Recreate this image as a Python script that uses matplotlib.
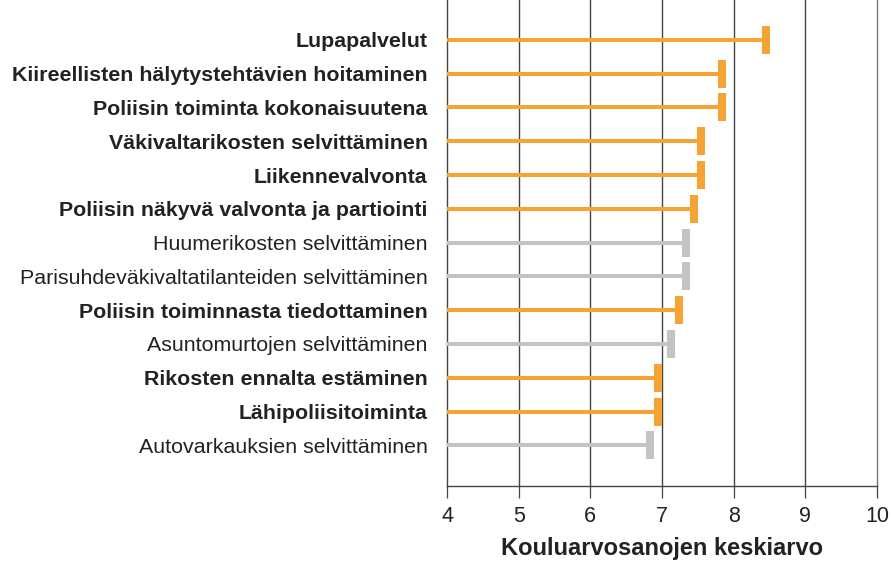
import matplotlib.pyplot as plt

plt.rcParams['font.family'] = ['Liberation Sans', 'DejaVu Sans']

labels = [
    "Lupapalvelut",
    "Kiireellisten hälytystehtävien hoitaminen",
    "Poliisin toiminta kokonaisuutena",
    "Väkivaltarikosten selvittäminen",
    "Liikennevalvonta",
    "Poliisin näkyvä valvonta ja partiointi",
    "Huumerikosten selvittäminen",
    "Parisuhdeväkivaltatilanteiden selvittäminen",
    "Poliisin toiminnasta tiedottaminen",
    "Asuntomurtojen selvittäminen",
    "Rikosten ennalta estäminen",
    "Lähipoliisitoiminta",
    "Autovarkauksien selvittäminen",
]
values = [8.45, 7.84, 7.84, 7.54, 7.54, 7.44, 7.33, 7.33, 7.24, 7.13, 6.94, 6.94, 6.83]
highlight = [True, True, True, True, True, True, False, False, True, False, True, True, False]

orange = "#F4A334"
gray = "#C2C3C5"

fig = plt.figure(figsize=(8.93, 5.65), dpi=100)
ax = fig.add_axes([0.5006, 0.140, 0.4815, 0.860])

for i, (v, h) in enumerate(zip(values, highlight)):
    c = orange if h else gray
    ax.plot([4, v - 0.05], [i, i], color=c, lw=2.9, solid_capstyle="butt", zorder=3)
    ax.plot([v], [i], marker="|", color=c, markersize=19.5, markeredgewidth=5.8, zorder=4)

ax.set_xlim(4, 10)
ax.set_ylim(13.2, -1.18)
ax.set_xticks(range(4, 11))
ax.tick_params(axis="x", direction="out", length=8.5, width=0.9, color="#444444",
               labelsize=15.5, pad=6, labelcolor="#222222")
ax.set_yticks(range(len(labels)))
ax.set_yticklabels(labels, fontsize=15.4, color="#222222")
for t, h in zip(ax.get_yticklabels(), highlight):
    t.set_fontweight("bold" if h else "normal")
ax.tick_params(axis="y", length=0, pad=14)

for x in range(5, 10):
    ax.axvline(x, color="#444444", lw=1.0, zorder=1)

ax.spines["top"].set_visible(False)
ax.spines["left"].set_color("#444444")
ax.spines["right"].set_color("#777777")
ax.spines["bottom"].set_color("#444444")
for s in ["left", "right", "bottom"]:
    ax.spines[s].set_linewidth(1.0)

ax.set_xlabel("Kouluarvosanojen keskiarvo", fontsize=17, fontweight="bold",
              color="#222222", labelpad=7)

fig.savefig("out.png", dpi=100)
